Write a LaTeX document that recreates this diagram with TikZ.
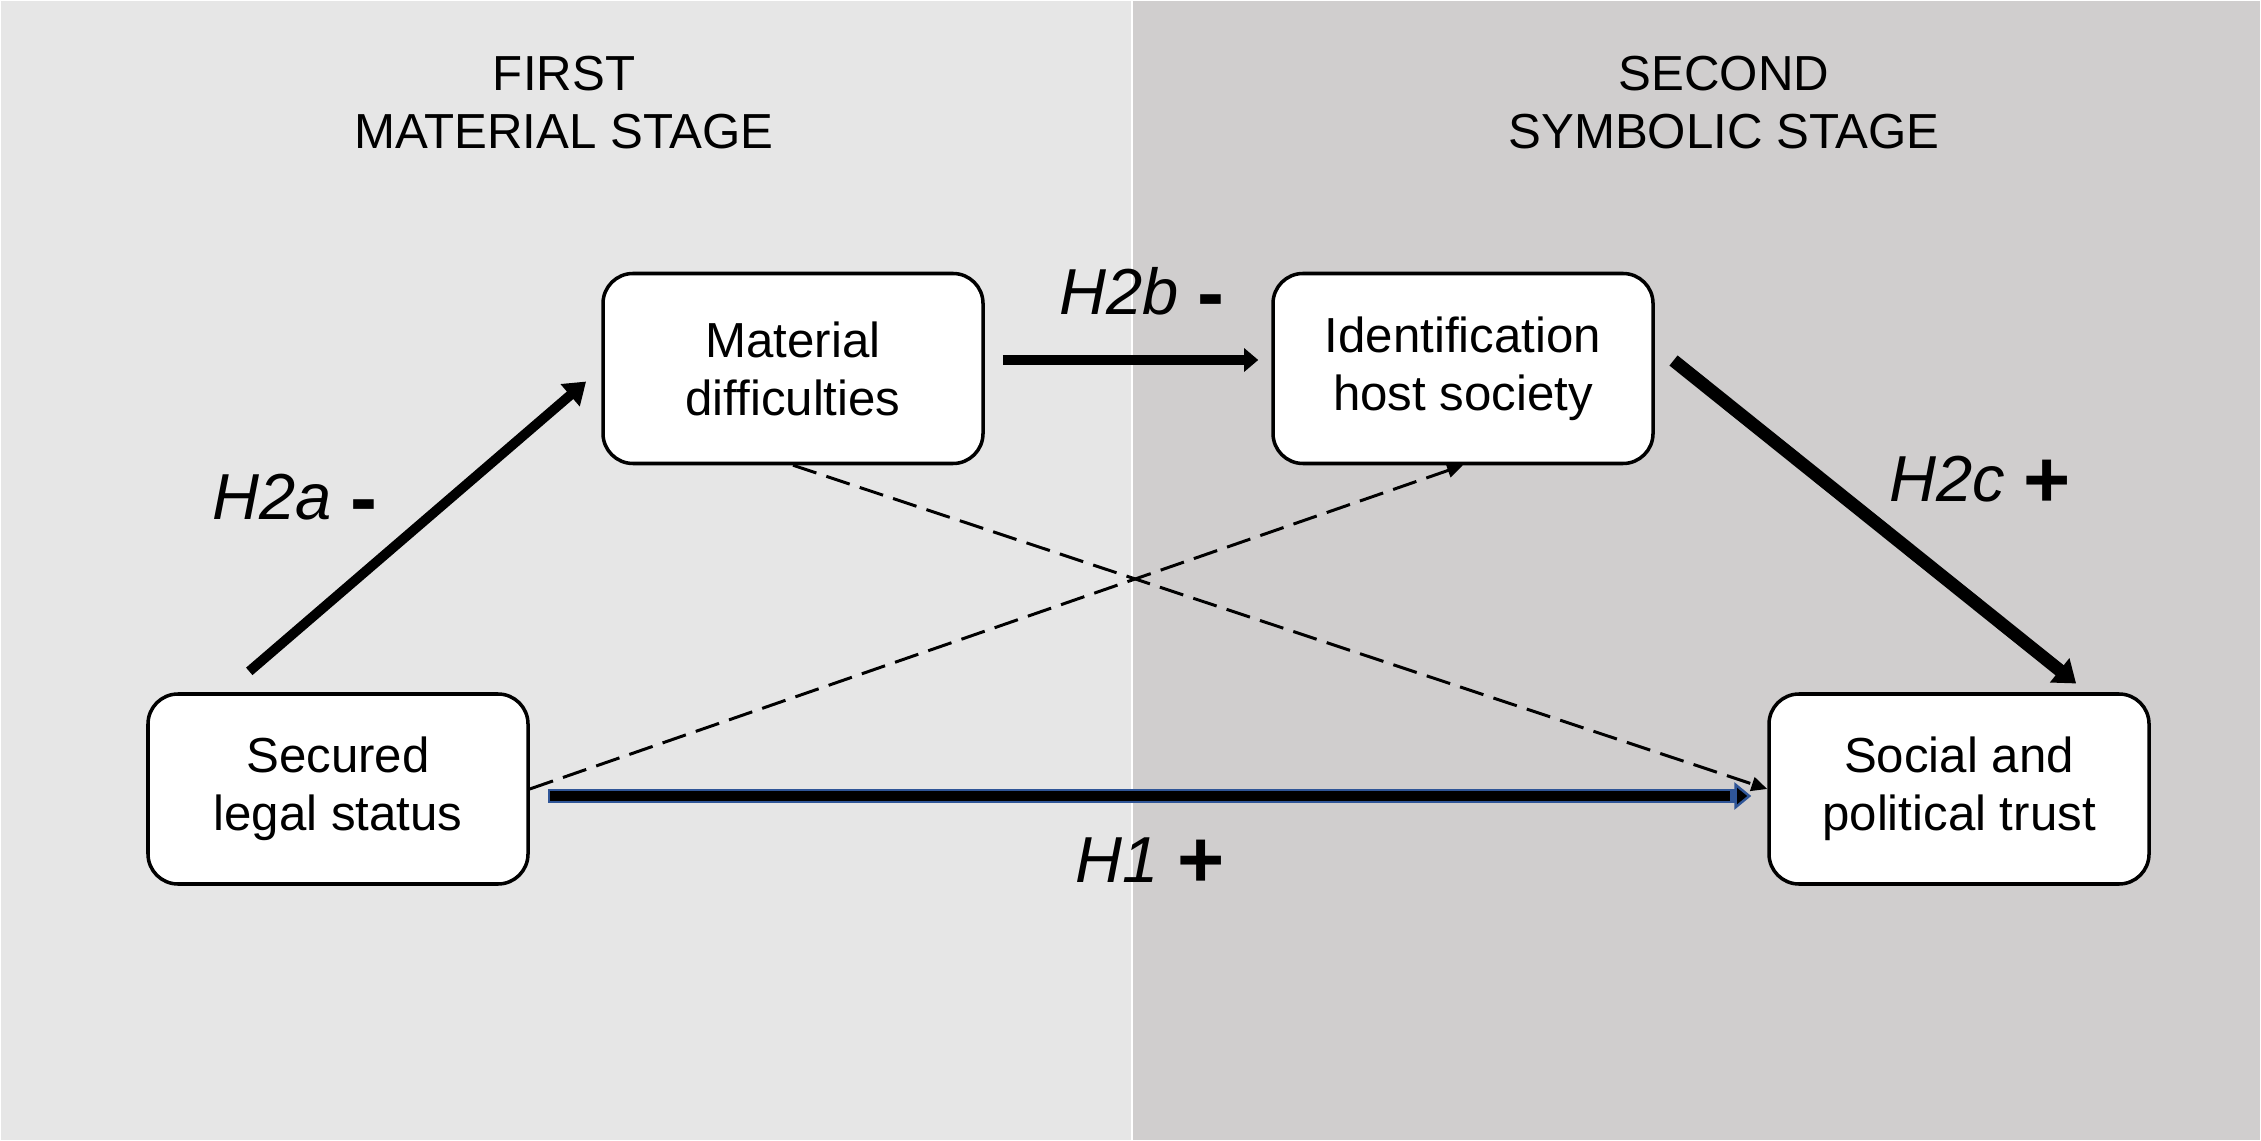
\documentclass[tikz,border=0pt]{standalone}
\usepackage{fontspec}
\setmainfont{Liberation Sans}
\usetikzlibrary{arrows.meta}
\definecolor{leftgray}{HTML}{E6E6E6}
\definecolor{rightgray}{HTML}{D0CECE}
\definecolor{outlineblue}{HTML}{2F5597}
\newcommand{\hsign}[1]{\raisebox{-1.7pt}{\fontsize{23}{23}\selectfont\textbf{#1}}}
\begin{document}
\begin{tikzpicture}[
  box/.style={draw, rounded corners=0.3cm, fill=white, line width=1pt, minimum width=3.8cm, minimum height=1.9cm, align=center, font=\fontsize{14}{16.5}\selectfont},
  stage/.style={align=center, font=\fontsize{14}{16.5}\selectfont},
  hyp/.style={anchor=base, font=\fontsize{18.5}{22}\selectfont},
  direct/.style={line width=0.85pt, dash pattern=on 7pt off 3pt, -{Triangle[length=4.5pt,width=4pt]}}
]
\useasboundingbox (0,0) rectangle (22.61,-11.41);
\path[fill=leftgray, draw=white, line width=0.6pt] (0,0) rectangle (11.32,-11.41);
\path[fill=rightgray, draw=white, line width=0.6pt] (11.32,0) rectangle (22.61,-11.41);
\node[stage] (s1) at (5.64,-1.03) {FIRST\\MATERIAL STAGE};
\node[stage] (s2) at (17.24,-1.03) {SECOND\\SYMBOLIC STAGE};
\node[box] (1) at (3.38,-7.89) {Secured\\legal status};
\node[box] (2) at (7.93,-3.685) {Material\\difficulties};
\node[box] (3) at (14.63,-3.685) {Identification\\host society};
\node[box] (4) at (19.59,-7.89) {Social and\\political trust};
\path[draw,line width=2.8pt,-{Triangle[length=6pt,width=8pt]},shorten <=0.32cm,shorten >=0.2cm] ([xshift=-1.13cm]1.north) -- (2.west);
\path[draw,line width=3.1pt,-{Triangle[length=4pt,width=6.5pt]},shorten <=0.18cm,shorten >=0.13cm] ([yshift=0.085cm]2.east) -- ([yshift=0.085cm]3.west);
\path[draw,line width=3.7pt,-{Triangle[length=6pt,width=8.5pt]},shorten <=0.24cm,shorten >=0.14cm] ([yshift=0.23cm]3.east) -- ([xshift=1.28cm]4.north);
\path[draw=outlineblue,line width=4pt,-{Triangle[length=4.8pt,width=7.7pt,fill=black,line width=0.7pt]},shorten <=0.18cm,shorten >=0.16cm] ([yshift=-0.07cm]1.east) -- ([yshift=-0.07cm]4.west);
\path[draw,line width=2.6pt,shorten <=0.2cm,shorten >=0.37cm] ([yshift=-0.07cm]1.east) -- ([yshift=-0.07cm]4.west);
\path[draw,direct] (2.south) -- (4.west);
\path[draw,direct] (1.east) -- (3.south);
\node[hyp] (5) at (2.95,-5.20) {\textit{H2a} \hsign{-}};
\node[hyp] (6) at (11.42,-3.15) {\textit{H2b} \hsign{-}};
\node[hyp] (7) at (19.80,-5.02) {\textit{H2c} \hsign{+}};
\node[hyp] (8) at (11.50,-8.82) {\textit{H1} \hsign{+}};
\end{tikzpicture}
\end{document}
